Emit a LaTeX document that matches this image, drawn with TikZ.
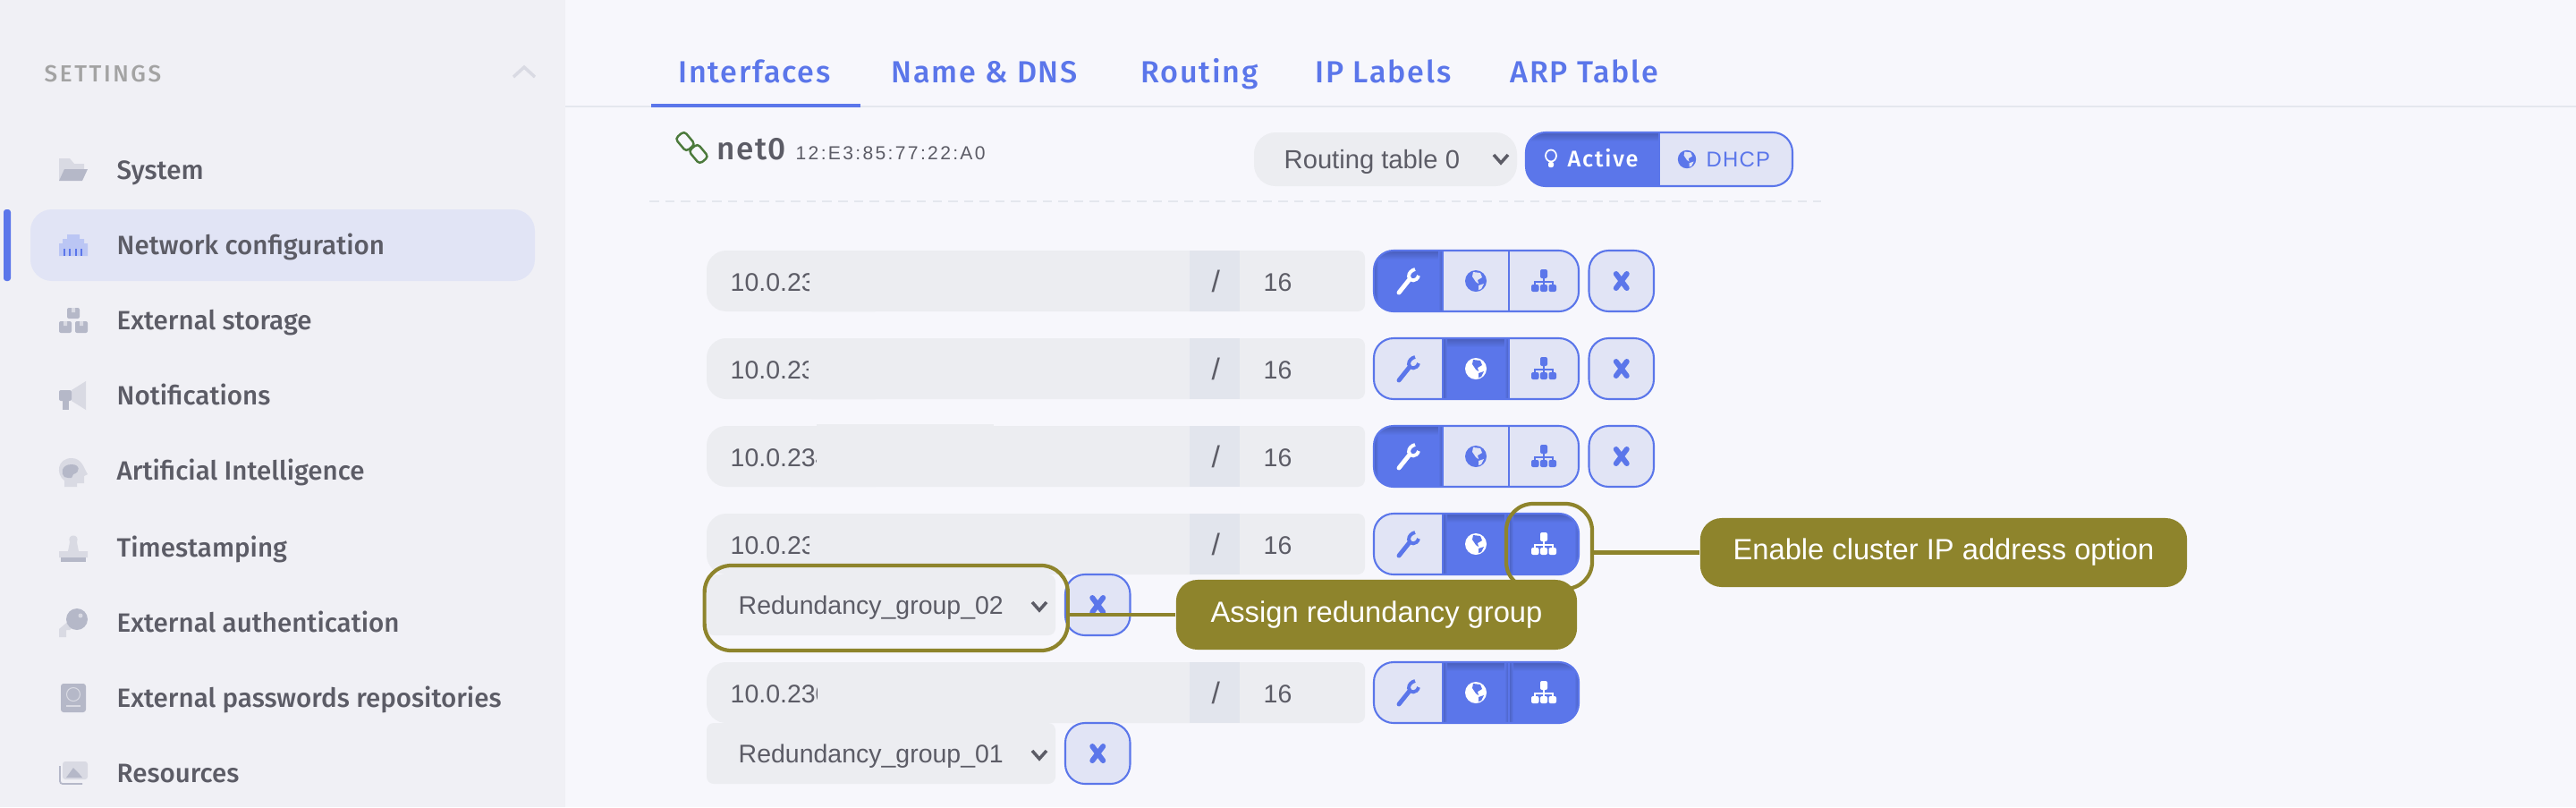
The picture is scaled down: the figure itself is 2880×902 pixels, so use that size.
\documentclass[tikz,border=0pt]{standalone}
\usepackage{fontspec}
\usetikzlibrary{arrows.meta,positioning}
\setmainfont{Liberation Sans}
\newfontfamily\medfont{Fira Sans Medium}
\definecolor{mainbg}{HTML}{F7F7FC}
\definecolor{sidebg}{HTML}{F0F0F5}
\definecolor{rulegray}{HTML}{E4E7EE}
\definecolor{fieldgray}{HTML}{ECEDF1}
\definecolor{seggray}{HTML}{E2E5ED}
\definecolor{txtgray}{HTML}{5C5C66}
\definecolor{btnblue}{HTML}{5B76EA}
\definecolor{btndark}{HTML}{4A60BE}
\definecolor{btnlight}{HTML}{E1E4F5}
\definecolor{icolight}{HTML}{D9DAE3}
\definecolor{icodark}{HTML}{B5B8C8}
\definecolor{olive}{HTML}{8E842C}
\definecolor{linkgreen}{HTML}{4C7A3C}

\newcommand{\wrenchicon}[1]{
	\draw[#1, line width=1.4pt, line cap=round] (-11,13) -- (1,-2);
	\draw[#1, line width=1.1pt] (11,-6) .. controls (9,1) and (1,1) .. (0,-5) .. controls (0,-9) and (3,-12) .. (7,-13);
}
\newcommand{\globeicon}[2]{
	\fill[#1] (0,0) circle [radius=12];
	\fill[#2] (-3,-10) -- (5,-9) -- (7,-4) -- (2,-1) -- (3,3) -- (0,1) -- (-4,-5) -- cycle;
	\fill[#2] (3,5) -- (9,3) -- (6,9) -- (3,10) -- cycle;
}
\newcommand{\clustericon}[1]{
	\fill[#1, rounded corners=0.02cm] (-4,-13) rectangle (4,-3);
	\draw[#1, line width=0.3pt] (0,-3) -- (0,4) (-10,4) -- (-10,1) -- (10,1) -- (10,4);
	\fill[#1, rounded corners=0.02cm] (-14,4) rectangle (-5.5,12);
	\fill[#1, rounded corners=0.02cm] (-4,4) rectangle (4,12);
	\fill[#1, rounded corners=0.02cm] (5.5,4) rectangle (14,12);
}
\newcommand{\crossicon}{
	\draw[btnblue, line width=1.7pt, line cap=round] (-6,-8) -- (6,8) (-6,8) -- (6,-8);
}
\newcommand{\segment}[3]{
	\ifnum#3=1
		\fill[btnblue] (#1,0) rectangle (#2,68);
		\shade[top color=btndark, bottom color=btnblue] (#1,1) rectangle (#2,10);
		\shade[left color=btndark, right color=btnblue] (#1,0) rectangle ++(5,68);
		\shade[left color=btnblue, right color=btndark] (#2,0) rectangle ++(-5,68);
	\else
		\fill[btnlight] (#1,0) rectangle (#2,68);
	\fi
}
%address field, the cover hides the end of the address
\newcommand{\ipfield}[4]{
	\fill[fieldgray, rounded corners=0.22cm] (790,0) rectangle (1000,68);
	\fill[fieldgray, rounded corners=0.08cm] (900,0) rectangle (1526,68);
	\fill[seggray] (1330,0) rectangle (1386,68);
	\node[fieldtext](#1ip) at (816,45) {#2};
	\fill[fieldgray] (#3,#4) rectangle (1111,68);
	\node[fieldtext, font=\fontsize{9.6}{11}\selectfont](#1sl) at (1354,46) {/};
	\node[fieldtext](#1ma) at (1412,45) {16};
}
\newcommand{\btngroup}[3]{
	\begin{scope}
		\clip[rounded corners=0.22cm] (1536,0) rectangle (1765,68);
		\segment{1536}{1613}{#1}
		\segment{1613}{1687}{#2}
		\segment{1687}{1765}{#3}
	\end{scope}
	\draw[btnline, rounded corners=0.22cm] (1536,0) rectangle (1765,68);
	\draw[btnline] (1613,0) -- (1613,68) (1687,0) -- (1687,68);
	\begin{scope}[shift={(1575,34)}]
		\ifnum#1=1 \wrenchicon{white}\else\wrenchicon{btnblue}\fi
	\end{scope}
	\begin{scope}[shift={(1650,34)}]
		\ifnum#2=1 \globeicon{white}{btnblue}\else\globeicon{btnblue}{btnlight}\fi
	\end{scope}
	\begin{scope}[shift={(1726,34)}]
		\ifnum#3=1 \clustericon{white}\else\clustericon{btnblue}\fi
	\end{scope}
}
\newcommand{\crossbtn}[1]{
	\fill[btnlight, draw=btnblue, line width=0.6pt, rounded corners=0.22cm] (#1,0) rectangle ++(72.5,68);
	\begin{scope}[shift={(#1,0)}, xshift=0.3625cm, yshift=-0.34cm]
		\crossicon
	\end{scope}
}
\newcommand{\selectfield}[2]{
	\fill[fieldgray, rounded corners=0.08cm] (790,0) rectangle (1180,68);
	\node[fieldtext](#1) at (825,44) {#2};
	\draw[txtgray, line width=1pt] (1154,31) -- (1162,40) -- (1170,31);
}

\begin{document}
\begin{tikzpicture}[x=0.01cm, y=-0.01cm]
\tikzstyle{menuitem} = [
	anchor=base west,
	inner sep=0pt,
	text=txtgray,
	font=\medfont\fontsize{8.4}{10}\selectfont
];
\tikzstyle{tabitem} = [
	anchor=base west,
	inner sep=0pt,
	text=btnblue,
	font=\medfont\addfontfeature{LetterSpace=5}\fontsize{9.7}{11}\selectfont
];
\tikzstyle{fieldtext} = [
	anchor=base west,
	inner sep=0pt,
	text=txtgray,
	font=\fontsize{8.1}{10}\selectfont
];
\tikzstyle{btnline} = [draw=btnblue, line width=0.6pt];
\tikzstyle{callout} = [
	shape=rectangle,
	fill=olive,
	text=white,
	rounded corners=0.24cm,
	inner sep=0pt,
	font=\fontsize{9.3}{11}\selectfont
];
\tikzstyle{markbox} = [
	shape=rectangle,
	draw=olive,
	line width=1.2pt,
	rounded corners=0.3cm,
	inner sep=0pt
];

\useasboundingbox (0,0) rectangle (2880,902);
\fill[mainbg] (0,0) rectangle (2880,902);
\fill[sidebg] (0,0) rectangle (632,902);

%side menu
\node[anchor=base west, inner sep=0pt, text=black!36, font=\medfont\addfontfeature{LetterSpace=10}\fontsize{7.4}{8}\selectfont](Se) at (49,91) {SETTINGS};
\draw[icolight, line width=1pt] (574,86) -- (586,75) -- (598,86);
\fill[btnblue, rounded corners=0.03cm] (4,234) rectangle (12,314);
\fill[btnlight, rounded corners=0.24cm] (34,234) rectangle (598,314);
\node[menuitem](Sy) at (130,200) {System};
\node[menuitem](Nw) at (130,284) {Network configuration};
\node[menuitem](Es) at (130,368) {External storage};
\node[menuitem](No) at (130,452) {Notifications};
\node[menuitem](Ai) at (130,536) {Artificial Intelligence};
\node[menuitem](Ts) at (130,622) {Timestamping};
\node[menuitem](Ea) at (130,706) {External authentication};
\node[menuitem](Ep) at (130,790) {External passwords repositories};
\node[menuitem](Re) at (130,874) {Resources};

%menu icons
\fill[icolight] (66,202) -- (66,177) -- (78,177) -- (83,183) -- (94,183) -- (94,190) -- (72,190) -- cycle;
\fill[icodark] (72,189) -- (98,189) -- (92,202) -- (66,202) -- cycle;
\fill[btnlight!50!btnblue!70!white] (66,286) -- (66,272) -- (70,272) -- (70,267) -- (75,267) -- (75,262) -- (89,262) -- (89,267) -- (94,267) -- (94,272) -- (98,272) -- (98,286) -- cycle;
\draw[btnblue, line width=0.3pt] (72,278) -- (72,286) (78,278) -- (78,286) (85,278) -- (85,286) (91,278) -- (91,286);
\fill[icodark, rounded corners=0.02cm] (75,344) rectangle (89,356);
\fill[icodark, rounded corners=0.02cm] (66,359) rectangle (80,372);
\fill[icodark, rounded corners=0.02cm] (84,359) rectangle (98,372);
\fill[icolight] (80,344) rectangle (84,349) (71,359) rectangle (75,364) (89,359) rectangle (93,364);
\fill[icolight] (80,436) -- (96,426) -- (96,458) -- (80,448) -- cycle;
\fill[icodark, rounded corners=0.02cm] (66,436) rectangle (80,448);
\fill[icodark] (70,448) rectangle (77,458);
\fill[icolight] (72,544) -- (72,537) .. controls (62,530) and (64,512) .. (80,512) .. controls (92,512) and (94,524) .. (98,530) -- (94,532) -- (94,540) -- (86,540) -- (86,544) -- cycle;
\fill[icodark] (72,533) .. controls (68,530) and (68,519) .. (80,519) .. controls (90,519) and (90,528) .. (82,530) -- (80,534) -- (76,534) -- cycle;
\fill[icolight] (76,616) -- (78,606) .. controls (74,596) and (90,596) .. (86,606) -- (88,616) -- (98,616) -- (98,623) -- (66,623) -- (66,616) -- cycle;
\fill[icodark] (68,623) rectangle (96,628);
\fill[icolight] (66,712) -- (66,703) -- (84,688) -- (90,694) -- (78,704) -- (74,704) -- (74,712) -- cycle;
\fill[icodark] (86,692) circle [radius=12];
\fill[icolight] (90,688) circle [radius=2.5];
\fill[icodark, rounded corners=0.03cm] (68,764) rectangle (96,796);
\draw[icolight, line width=0.3pt] (82,776) circle [radius=7.5];
\draw[icolight, line width=0.5pt] (74,789) -- (90,789);
\fill[icolight, rounded corners=0.03cm] (70,851) rectangle (98,871);
\fill[icodark] (74,869) -- (82,858) -- (88,864) -- (92,869) -- cycle;
\draw[icodark, line width=0.5pt, rounded corners=0.03cm] (67,856) -- (67,876) -- (92,876);

%tabs
\draw[rulegray, line width=0.6pt] (632,119) -- (2880,119);
\fill[btnblue] (728,116) rectangle (962,120);
\node[tabitem](If) at (758,92) {Interfaces};
\node[tabitem](Nd) at (996,92) {Name \& DNS};
\node[tabitem](Ro) at (1275,92) {Routing};
\node[tabitem](Ip) at (1470,92) {IP Labels};
\node[tabitem](Ar) at (1688,92) {ARP Table};

%interface header
\node[draw=linkgreen, line width=0.7pt, rounded corners=0.04cm, minimum width=0.19cm, minimum height=0.13cm, inner sep=0pt, rotate=-50](Li) at (766,158) {};
\node[draw=linkgreen, line width=0.7pt, rounded corners=0.04cm, minimum width=0.19cm, minimum height=0.13cm, inner sep=0pt, rotate=-50](Lj) at (781,172) {};
\node[anchor=base west, inner sep=0pt, text=txtgray, font=\medfont\addfontfeature{LetterSpace=4}\fontsize{10}{12}\selectfont](Ne) at (801,178) {net0};
\node[anchor=base west, inner sep=0pt, text=txtgray, font=\addfontfeature{LetterSpace=11}\fontsize{6}{8}\selectfont](Ma) at (889,178) {12:E3:85:77:22:A0};
\fill[fieldgray, rounded corners=0.24cm] (1402,148) rectangle (1696,208);
\node[fieldtext, font=\fontsize{8.3}{10}\selectfont](Rt) at (1435,188) {Routing table 0};
\draw[txtgray, line width=1pt] (1670,173) -- (1678,182) -- (1686,173);
\begin{scope}
	\clip[rounded corners=0.22cm] (1706,148) rectangle (2004,208);
	\fill[btnblue] (1706,148) rectangle (1855,208);
	\shade[top color=btndark, bottom color=btnblue] (1706,149) rectangle (1855,158);
	\fill[btnlight] (1855,148) rectangle (2004,208);
\end{scope}
\draw[btnline, rounded corners=0.22cm] (1706,148) rectangle (2004,208);
\draw[btnline] (1855,148) -- (1855,208);
\draw[white, line width=0.5pt] (1734,174) ellipse [x radius=6, y radius=6.5];
\fill[white, rounded corners=0.02cm] (1731,181) rectangle (1737,187);
\node[anchor=base west, inner sep=0pt, text=white, font=\medfont\addfontfeature{LetterSpace=7}\fontsize{7.2}{8}\selectfont](Ac) at (1752,186) {Active};
\begin{scope}[shift={(1886,178)}, scale=0.85]
	\globeicon{btnblue}{btnlight}
\end{scope}
\node[anchor=base west, inner sep=0pt, text=btnblue, font=\addfontfeature{LetterSpace=5}\fontsize{6.8}{8}\selectfont](Dh) at (1907,186) {DHCP};
\draw[rulegray, line width=0.5pt, dashed, dash pattern=on 3pt off 2pt] (726,225) -- (2036,225);

%first address
\begin{scope}[shift={(0,280)}]
	\ipfield{Aa}{10.0.23}{905}{0}
	\btngroup{1}{0}{0}
	\crossbtn{1776.5}
\end{scope}

%second address
\begin{scope}[shift={(0,378)}]
	\ipfield{Ab}{10.0.23}{904}{0}
	\btngroup{0}{1}{0}
	\crossbtn{1776.5}
\end{scope}

%third address
\begin{scope}[shift={(0,476)}]
	\ipfield{Ac}{10.0.234}{913}{-2}
	\btngroup{1}{0}{0}
	\crossbtn{1776.5}
\end{scope}

%fourth address with its group
\begin{scope}[shift={(0,574)}]
	\ipfield{Ad}{10.0.23}{905}{0}
	\btngroup{0}{1}{1}
\end{scope}
\begin{scope}[shift={(0,642)}]
	\selectfield{Sb}{Redundancy\_group\_02}
	\crossbtn{1191}
\end{scope}

%fifth address with its group
\begin{scope}[shift={(0,740)}]
	\ipfield{Ae}{10.0.230}{914}{0}
	\btngroup{0}{1}{1}
\end{scope}
\begin{scope}[shift={(0,808)}]
	\selectfield{Sa}{Redundancy\_group\_01}
	\crossbtn{1191}
\end{scope}

%marks around the controls
\node[markbox, minimum width=4.06cm, minimum height=0.95cm](Gb) at (990.75,679.5) {};
\node[markbox, minimum width=0.96cm, minimum height=0.95cm](Cb) at (1732,610.5) {};

%callouts
\node[callout, minimum width=4.48cm, minimum height=0.78cm](As) at (1539,687) {Assign redundancy group};
\node[callout, minimum width=5.44cm, minimum height=0.77cm](En) at (2173,617.5) {Enable cluster IP address option};

\draw[olive, line width=1.2pt]
	(As.west -| Gb.east) edge[] (As.west)
	(En.west -| Cb.east) edge[] (En.west)
;
\end{tikzpicture}
\end{document}
